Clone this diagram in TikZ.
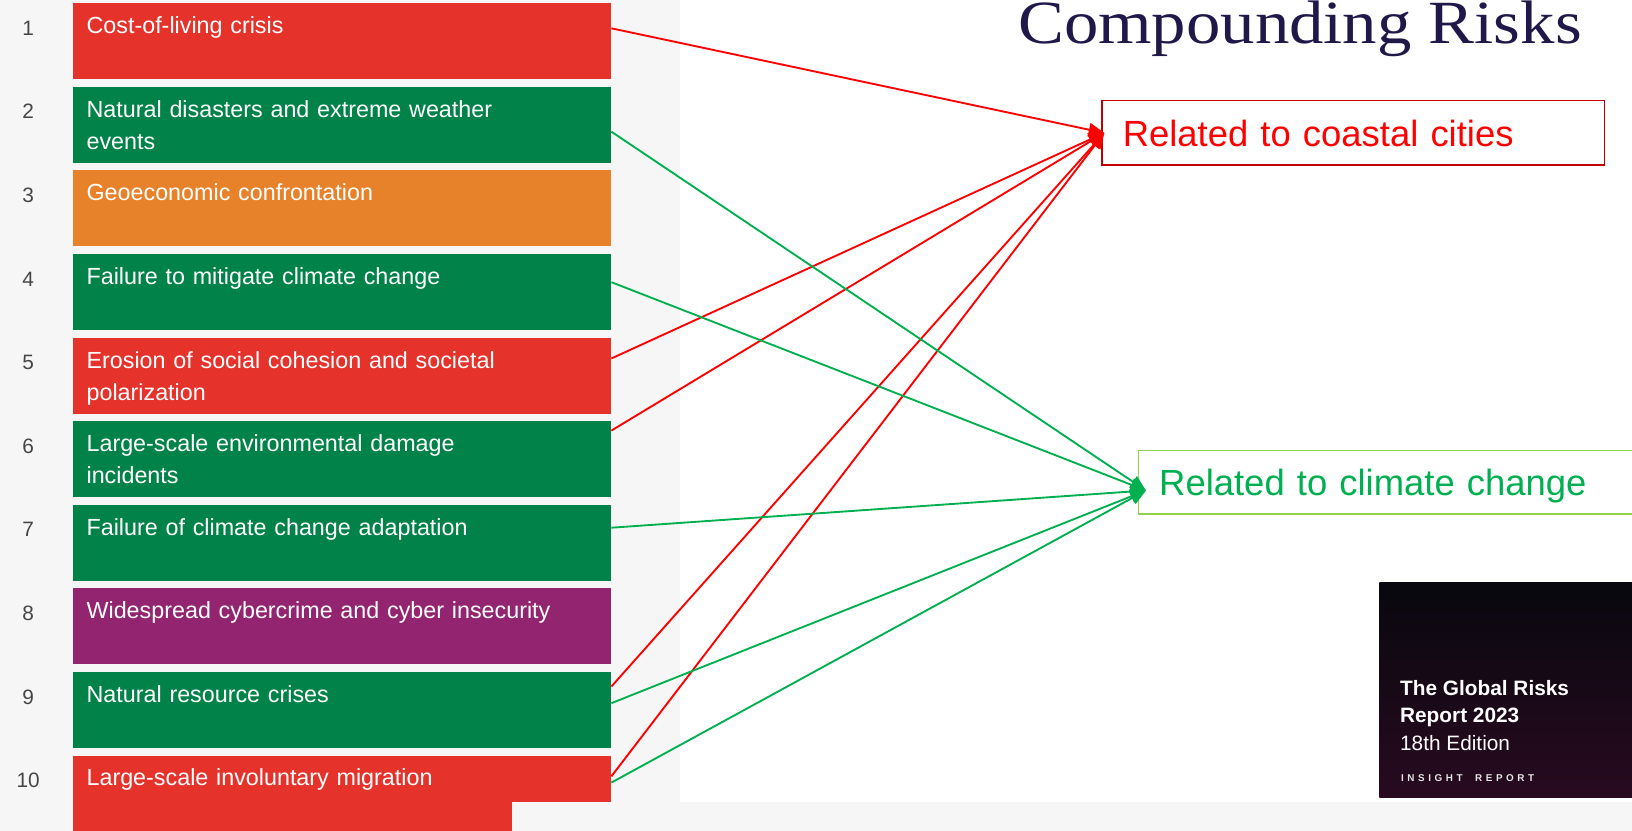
\documentclass[tikz,border=0pt]{standalone}
\usepackage{fontspec}
\setmainfont{Liberation Sans}
\newfontfamily\titlefont[FakeStretch=1.12]{Liberation Serif}
\usetikzlibrary{arrows.meta}

\definecolor{riskred}{RGB}{229,50,42}
\definecolor{riskgreen}{RGB}{0,130,72}
\definecolor{riskorange}{RGB}{232,130,42}
\definecolor{riskpurple}{RGB}{146,36,112}
\definecolor{panelgray}{RGB}{246,246,246}
\definecolor{numgray}{RGB}{70,70,70}
\definecolor{titlenavy}{RGB}{32,24,72}
\definecolor{coastred}{RGB}{255,0,0}
\definecolor{coastborder}{RGB}{192,0,0}
\definecolor{climgreen}{RGB}{0,176,80}
\definecolor{climborder}{RGB}{146,208,80}
\definecolor{covertop}{RGB}{8,8,14}
\definecolor{coverbottom}{RGB}{40,10,32}

\tikzset{
riskbox/.style={anchor=north west,minimum width=517pt,minimum height=73pt,inner sep=0pt},
risktext/.style={anchor=north west,inner sep=0pt,text width=480pt,align=left,text=white,font=\fontsize{22.4}{31}\selectfont},
risknum/.style={anchor=base,text=numgray,font=\fontsize{20}{24}\selectfont},
tagbox/.style={anchor=north west,line width=1.5pt,inner xsep=20pt,align=left,text height=26pt,text depth=0pt,font=\fontsize{35}{40}\selectfont},
covertext/.style={anchor=base west,inner sep=0pt,text=white},
redline/.style={draw=coastred,line width=1.8pt,-{Triangle[length=15pt,width=13pt]}},
greenline/.style={draw=climgreen,line width=1.8pt,-{Triangle[length=15pt,width=13pt]}}
}

\begin{document}
\begin{tikzpicture}[x=1pt,y=-1pt]
\useasboundingbox (0,0) rectangle (1568,798);
\fill[panelgray] (0,0) rectangle (653,798);
% edit here for the ten risks
\foreach \i/\c/\t in {1/riskred/{Cost-of-living crisis},
  2/riskgreen/{Natural disasters and extreme weather\\events},
  3/riskorange/{Geoeconomic confrontation},
  4/riskgreen/{Failure to mitigate climate change},
  5/riskred/{Erosion of social cohesion and societal\\polarization},
  6/riskgreen/{Large-scale environmental damage\\incidents},
  7/riskgreen/{Failure of climate change adaptation},
  8/riskpurple/{Widespread cybercrime and cyber insecurity},
  9/riskgreen/{Natural resource crises},
  10/riskred/{Large-scale involuntary migration}}
{
\node[riskbox,fill=\c] (b\i) at (70,{3+80.3*(\i-1)}) {};
\node[risktext] (t\i) at ([xshift=13pt,yshift=-13pt]b\i.north west) {\t};
\node[risknum] (n\i) at (27,{34+80.3*(\i-1)}) {\i};
}
\fill[panelgray] (492,771) rectangle (1568,798);

\node[anchor=base west,inner sep=0pt,text=titlenavy,font=\titlefont\fontsize{59}{64}\selectfont] (title) at (978,42) {Compounding Risks};

\node[tagbox,draw=coastborder,text=coastred,text width=443pt,minimum height=62pt] (coastal) at (1058,96) {Related to coastal cities};
\node[tagbox,draw=climborder,text=climgreen,text width=445pt,minimum height=61pt] (climate) at (1093,432) {Related to climate change};

% edit here for the arrows
\foreach \i/\s in {1/12.5,5/16.5,6/27.5,9/22.5,10/16.5}
\draw[redline] ([yshift=\s pt]b\i.east) -- ([xshift=3pt]coastal.west);
\foreach \i/\s in {2/-6.5,4/9.5,7/14.5,9/6.5,10/10.5}
\draw[greenline] ([yshift=\s pt]b\i.east) -- ([xshift=8pt,yshift=-8pt]climate.west);

% report cover
\node[anchor=north west,inner sep=0pt,minimum width=250pt,minimum height=207pt,top color=covertop,bottom color=coverbottom] (cover) at (1325,559) {};
\node[covertext,font=\bfseries\fontsize{20}{24}\selectfont] (c1) at (1345,668) {The Global Risks};
\node[covertext,font=\bfseries\fontsize{20}{24}\selectfont] (c2) at (1345,694) {Report 2023};
\node[covertext,font=\fontsize{20}{24}\selectfont] (c3) at (1345,721) {18th Edition};
\node[covertext,text=white!80!gray,font=\bfseries\addfontfeature{LetterSpace=36}\fontsize{9.5}{11}\selectfont] (c4) at (1346,751) {INSIGHT\ \ REPORT};
\end{tikzpicture}
\end{document}
